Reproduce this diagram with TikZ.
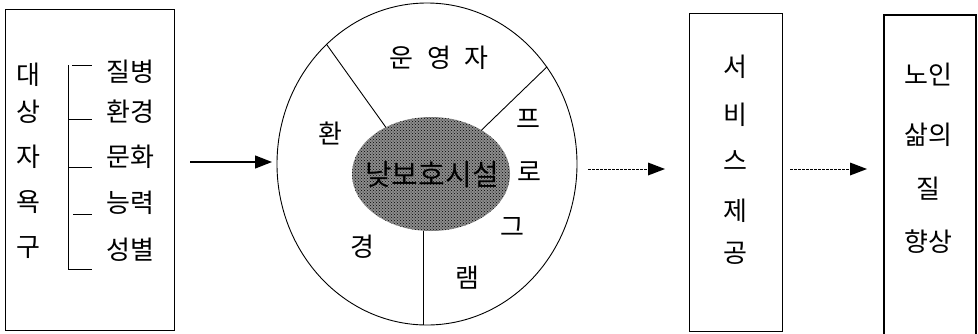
\documentclass[tikz,border=0pt]{standalone}
\usepackage{fontspec}
\setmainfont{Noto Sans CJK KR}
\usetikzlibrary{arrows.meta,patterns,shapes.geometric}
\begin{document}
\begin{tikzpicture}[x=1pt,y=-1pt,
  txt/.style={font=\fontsize{26}{26}\selectfont, inner sep=0pt},
  bigtxt/.style={font=\fontsize{29}{29}\selectfont, inner sep=0pt},
  thinline/.style={line width=0.9pt},
  boxnode/.style={draw, thinline, anchor=north west, inner sep=0pt},
  solidarrow/.style={line width=1.2pt, -{Triangle[length=17pt,width=13pt]}},
  dotarrow/.style={line width=0.9pt, dash pattern=on 2.5pt off 1.5pt, -{Triangle[length=17pt,width=13pt,line width=0pt,sep=0pt]}},
]
\useasboundingbox (0,0) rectangle (978,333);

% left box
\node[boxnode, minimum width=169pt, minimum height=321pt] (need) at (5,9) {};
\node[txt] (n1) at (28,75) {대};
\node[txt] (n2) at (28,112) {상};
\node[txt] (n3) at (28,157) {자};
\node[txt] (n4) at (28,202) {욕};
\node[txt] (n5) at (28,248) {구};
\node[txt] (r1) at (130,72) {질병};
\node[txt] (r2) at (130,112) {환경};
\node[txt] (r3) at (130,157) {문화};
\node[txt] (r4) at (130,203) {능력};
\node[txt] (r5) at (130,250) {성별};
% bracket
\draw[thinline] (68,65) -- (68,269);
\draw[thinline] (72,65) -- (92,65);
\draw[thinline] (68,119) -- (92,119);
\draw[thinline] (68,167) -- (92,167);
\draw[thinline] (73,214) -- (92,214);
\draw[thinline] (68,269) -- (92,269);

% central circle
\node[ellipse, draw, thinline, minimum width=300pt, minimum height=322pt, inner sep=0pt] (org) at (427,164) {};
\node[ellipse, minimum width=158pt, minimum height=114pt, inner sep=0pt,
      preaction={fill=black!45}, pattern=crosshatch dots, pattern color=black] (core) at (431,174) {};
\node[bigtxt] (coretxt) at (432,175) {낮보호시설};
\draw[thinline] (org.130) -- (core.134);
\draw[thinline] (org.39) -- (core.41);
\draw[thinline] (core.-98) -- (core.-98 |- org.south);
\node[txt] (op) at (439,58) {운\hspace{14pt}영\hspace{14pt}자};
\node[txt] (e1) at (330,133) {환};
\node[txt] (e2) at (362,247) {경};
\node[txt] (p1) at (528,119) {프};
\node[txt] (p2) at (529,172) {로};
\node[txt] (p3) at (512,227) {그};
\node[txt] (p4) at (467,278) {램};

% service box
\node[boxnode, minimum width=93pt, minimum height=318pt] (svc) at (689,13) {};
\node[txt] (s1) at (735,67) {서};
\node[txt] (s2) at (735,115) {비};
\node[txt] (s3) at (735,161) {스};
\node[txt] (s4) at (735,211) {제};
\node[txt] (s5) at (735,253) {공};

% outcome box
\node[draw, line width=2.2pt, anchor=north west, minimum width=92pt, minimum height=330pt, inner sep=0pt] (qol) at (883,14) {};
\node[txt] (q1) at (928,75) {노인};
\node[txt] (q2) at (928,135) {삶의};
\node[txt] (q3) at (928,189) {질};
\node[txt] (q4) at (928,242) {향상};

% arrows
\coordinate (a1s) at (190,162);
\coordinate (a1e) at (272,162);
\draw[solidarrow] (a1s) -- (a1e);
\coordinate (a2s) at (588,169);
\coordinate (a2e) at (665,169);
\draw[dotarrow] (a2s) -- (a2e);
\coordinate (a3s) at (790,169);
\coordinate (a3e) at (867,169);
\draw[dotarrow] (a3s) -- (a3e);
\end{tikzpicture}
\end{document}
